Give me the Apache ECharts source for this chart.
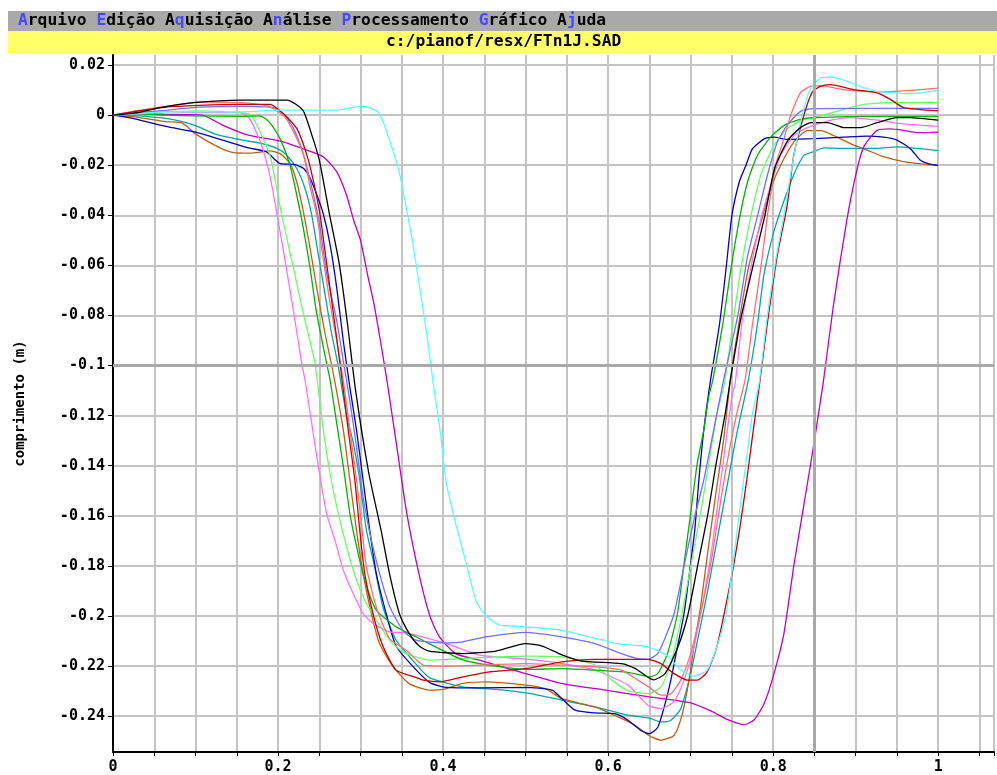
<!DOCTYPE html>
<html>
<head>
<meta charset="utf-8">
<title>FTn1J.SAD</title>
<script src="https://cdn.jsdelivr.net/npm/echarts/dist/echarts.min.js"></script>
<style>
  html, body { margin: 0; padding: 0; background: #fff; }
  #chart { width: 997px; height: 775px; }
</style>
</head>
<body>
<div id="chart"></div>
<script>
// menu + file name
var menuItems = [
  ['', 'A', 'rquivo'], ['', 'E', 'dição'], ['A', 'q', 'uisição'], ['A', 'n', 'álise'],
  ['', 'P', 'rocessamento'], ['', 'G', 'ráfico'], ['A', 'j', 'uda']
];
var fileName = 'c:/pianof/resx/FTn1J.SAD';
var yName = 'comprimento (m)';

// axis ticks
var yTicks = [0.02, 0, -0.02, -0.04, -0.06, -0.08, -0.1, -0.12, -0.14, -0.16, -0.18, -0.2, -0.22, -0.24];
var xLabelStep = 0.2;
var cursorX = 0.85;
var cursorY = -0.1;

// curves [x, y]
var black = [[0,0],[0.03,0.001],[0.057,0.003],[0.097,0.005],[0.157,0.006],[0.211,0.006],[0.23,0.002],[0.24,-0.007],[0.25,-0.018],[0.262,-0.039],[0.274,-0.059],[0.284,-0.083],[0.294,-0.11],[0.31,-0.143],[0.325,-0.166],[0.335,-0.183],[0.347,-0.199],[0.359,-0.207],[0.371,-0.212],[0.383,-0.214],[0.423,-0.215],[0.464,-0.214],[0.5,-0.211],[0.52,-0.212],[0.544,-0.2155],[0.568,-0.218],[0.616,-0.219],[0.633,-0.221],[0.655,-0.2255],[0.669,-0.223],[0.685,-0.212],[0.697,-0.199],[0.709,-0.179],[0.721,-0.159],[0.731,-0.139],[0.742,-0.119],[0.748,-0.106],[0.761,-0.081],[0.775,-0.061],[0.79,-0.04],[0.802,-0.021],[0.818,-0.01],[0.833,-0.005],[0.846,-0.003],[0.866,-0.003],[0.886,-0.005],[0.906,-0.005],[0.926,-0.003],[0.95,-0.001],[0.966,-0.001],[1,-0.002]];
var cyan = [[0,0],[0.03,0.0005],[0.064,0.0013],[0.1,0.0013],[0.156,0.0013],[0.2,0.002],[0.27,0.002],[0.302,0.0036],[0.322,0.001],[0.335,-0.01],[0.347,-0.023],[0.356,-0.038],[0.364,-0.0525],[0.372,-0.0696],[0.38,-0.087],[0.388,-0.107],[0.396,-0.125],[0.404,-0.147],[0.416,-0.164],[0.428,-0.179],[0.44,-0.194],[0.452,-0.2],[0.468,-0.2035],[0.5,-0.2043],[0.54,-0.2055],[0.58,-0.2085],[0.61,-0.211],[0.648,-0.2123],[0.672,-0.216],[0.688,-0.2216],[0.704,-0.224],[0.72,-0.2216],[0.732,-0.212],[0.743,-0.199],[0.751,-0.18],[0.759,-0.159],[0.767,-0.139],[0.775,-0.119],[0.783,-0.107],[0.793,-0.08],[0.803,-0.058],[0.813,-0.04],[0.821,-0.024],[0.829,-0.0096],[0.837,0.0024],[0.845,0.0104],[0.857,0.0148],[0.869,0.0152],[0.885,0.0141],[0.905,0.0115],[0.925,0.0095],[0.946,0.0089],[0.966,0.0086],[1,0.0099]];
var purple = [[0,0],[0.03,0.0005],[0.064,0.0003],[0.108,0],[0.134,-0.0042],[0.164,-0.008],[0.204,-0.0105],[0.235,-0.014],[0.255,-0.0167],[0.271,-0.0226],[0.283,-0.032],[0.292,-0.0424],[0.3,-0.05],[0.308,-0.063],[0.316,-0.075],[0.324,-0.09],[0.332,-0.106],[0.344,-0.1326],[0.356,-0.159],[0.372,-0.185],[0.384,-0.2],[0.395,-0.208],[0.415,-0.215],[0.444,-0.2176],[0.464,-0.2196],[0.5,-0.223],[0.544,-0.227],[0.597,-0.2296],[0.65,-0.2323],[0.7,-0.2347],[0.725,-0.238],[0.745,-0.2414],[0.765,-0.2434],[0.777,-0.2414],[0.789,-0.235],[0.801,-0.223],[0.813,-0.207],[0.825,-0.18],[0.837,-0.156],[0.849,-0.132],[0.861,-0.106],[0.873,-0.076],[0.889,-0.0424],[0.901,-0.0226],[0.91,-0.0125],[0.926,-0.0061],[0.942,-0.0055],[0.958,-0.0061],[0.974,-0.007],[1,-0.0068]];
var darkRed = [[0,0],[0.024,0.0013],[0.064,0.0032],[0.104,0.0039],[0.153,0.0043],[0.19,0.0043],[0.207,0.0004],[0.223,-0.0055],[0.235,-0.016],[0.243,-0.0266],[0.251,-0.04],[0.259,-0.0595],[0.267,-0.079],[0.275,-0.099],[0.285,-0.1256],[0.293,-0.1456],[0.299,-0.1656],[0.305,-0.183],[0.315,-0.199],[0.327,-0.212],[0.343,-0.2216],[0.367,-0.2245],[0.376,-0.2256],[0.396,-0.2263],[0.424,-0.2243],[0.456,-0.2223],[0.5,-0.221],[0.544,-0.2183],[0.584,-0.2173],[0.648,-0.2173],[0.664,-0.219],[0.68,-0.223],[0.696,-0.2256],[0.708,-0.2256],[0.72,-0.2223],[0.732,-0.212],[0.744,-0.1936],[0.752,-0.18],[0.76,-0.164],[0.768,-0.1456],[0.776,-0.1256],[0.784,-0.106],[0.793,-0.083],[0.805,-0.056],[0.817,-0.036],[0.825,-0.016],[0.837,-0.0003],[0.847,0.009],[0.857,0.0115],[0.869,0.0122],[0.898,0.0102],[0.926,0.0089],[0.942,0.0063],[0.958,0.003],[1,0.0017]];
var lightRed = [[0,0],[0.03,0.0018],[0.064,0.0035],[0.088,0.0045],[0.104,0.0052],[0.154,0.005],[0.187,0.0037],[0.207,-0.0003],[0.219,-0.0068],[0.231,-0.016],[0.239,-0.029],[0.247,-0.04],[0.255,-0.058],[0.263,-0.075],[0.271,-0.09],[0.279,-0.106],[0.287,-0.1256],[0.295,-0.1456],[0.301,-0.163],[0.307,-0.1803],[0.319,-0.1963],[0.335,-0.209],[0.355,-0.2136],[0.376,-0.2196],[0.4,-0.22],[0.444,-0.2196],[0.5,-0.219],[0.544,-0.2196],[0.584,-0.2203],[0.616,-0.2216],[0.636,-0.2256],[0.65,-0.2285],[0.664,-0.2316],[0.676,-0.231],[0.688,-0.2256],[0.7,-0.215],[0.712,-0.199],[0.724,-0.18],[0.734,-0.159],[0.744,-0.139],[0.756,-0.119],[0.766,-0.1056],[0.775,-0.0834],[0.785,-0.061],[0.793,-0.0403],[0.803,-0.02],[0.813,-0.0095],[0.821,-0.0003],[0.833,0.0089],[0.845,0.0115],[0.857,0.0118],[0.885,0.0102],[0.926,0.0093],[0.966,0.0099],[1,0.0108]];
var darkBlue = [[0,0],[0.024,-0.0013],[0.064,-0.0045],[0.1,-0.0068],[0.134,-0.0101],[0.166,-0.0132],[0.186,-0.0147],[0.202,-0.0193],[0.219,-0.0197],[0.231,-0.0213],[0.239,-0.0253],[0.247,-0.0318],[0.255,-0.0397],[0.263,-0.0516],[0.271,-0.0687],[0.279,-0.09],[0.287,-0.1086],[0.295,-0.1256],[0.303,-0.1456],[0.311,-0.1656],[0.319,-0.183],[0.331,-0.199],[0.343,-0.212],[0.363,-0.22],[0.384,-0.2266],[0.404,-0.2285],[0.444,-0.2287],[0.5,-0.2285],[0.532,-0.2296],[0.544,-0.233],[0.56,-0.2376],[0.584,-0.2387],[0.608,-0.239],[0.624,-0.2416],[0.64,-0.2458],[0.65,-0.247],[0.66,-0.2445],[0.668,-0.2363],[0.676,-0.2256],[0.684,-0.2123],[0.692,-0.199],[0.7,-0.179],[0.705,-0.1656],[0.71,-0.1456],[0.716,-0.1256],[0.724,-0.106],[0.735,-0.0834],[0.743,-0.061],[0.75,-0.04],[0.759,-0.0266],[0.767,-0.02],[0.775,-0.0134],[0.789,-0.0095],[0.801,-0.0088],[0.817,-0.0097],[0.85,-0.0094],[0.886,-0.0088],[0.913,-0.0084],[0.934,-0.0088],[0.95,-0.01],[0.966,-0.0133],[0.978,-0.0179],[0.99,-0.0196],[1,-0.0201]];
var lightBlue = [[0,0],[0.03,0.001],[0.064,0.0019],[0.104,0.0032],[0.157,0.0035],[0.194,0.003],[0.207,0.0004],[0.219,-0.0055],[0.231,-0.016],[0.243,-0.032],[0.251,-0.045],[0.259,-0.0634],[0.271,-0.082],[0.279,-0.098],[0.287,-0.114],[0.295,-0.1323],[0.303,-0.1523],[0.313,-0.1696],[0.323,-0.183],[0.335,-0.196],[0.351,-0.2056],[0.367,-0.2096],[0.4,-0.2107],[0.424,-0.2103],[0.452,-0.2083],[0.5,-0.2065],[0.544,-0.2083],[0.584,-0.211],[0.616,-0.215],[0.636,-0.217],[0.648,-0.2173],[0.66,-0.215],[0.668,-0.2096],[0.68,-0.199],[0.692,-0.18],[0.704,-0.1616],[0.716,-0.1456],[0.728,-0.1256],[0.74,-0.1056],[0.757,-0.0803],[0.769,-0.0563],[0.781,-0.0403],[0.793,-0.024],[0.805,-0.0108],[0.817,-0.004],[0.834,0.0017],[0.85,0.0026],[1,0.0027]];
var green = [[0,0],[0.024,0.0006],[0.064,0],[0.1,-0.0003],[0.154,-0.0005],[0.178,-0.0003],[0.19,-0.003],[0.2025,-0.0095],[0.2145,-0.02],[0.2226,-0.0318],[0.2306,-0.045],[0.2387,-0.0608],[0.2467,-0.079],[0.2588,-0.099],[0.263,-0.1056],[0.271,-0.1229],[0.279,-0.14],[0.287,-0.159],[0.295,-0.172],[0.305,-0.1856],[0.319,-0.1976],[0.343,-0.2043],[0.367,-0.2083],[0.383,-0.211],[0.424,-0.2175],[0.464,-0.22],[0.504,-0.2213],[0.544,-0.221],[0.584,-0.2216],[0.624,-0.2225],[0.64,-0.2236],[0.65,-0.2243],[0.66,-0.223],[0.672,-0.215],[0.684,-0.199],[0.692,-0.179],[0.7,-0.159],[0.708,-0.139],[0.716,-0.1256],[0.722,-0.1123],[0.727,-0.1056],[0.739,-0.0834],[0.749,-0.061],[0.759,-0.0416],[0.769,-0.0266],[0.781,-0.016],[0.797,-0.0088],[0.813,-0.0042],[0.834,-0.0016],[0.85,-0.001],[0.926,-0.0005],[1,-0.0005]];
var lightGreen = [[0,0],[0.03,0.001],[0.064,0.0013],[0.1,0.0017],[0.154,0.001],[0.168,-0.0003],[0.19,-0.016],[0.2045,-0.04],[0.2186,-0.061],[0.2326,-0.082],[0.2447,-0.099],[0.2548,-0.1256],[0.263,-0.143],[0.273,-0.159],[0.283,-0.1723],[0.295,-0.1856],[0.307,-0.195],[0.319,-0.2016],[0.335,-0.2096],[0.351,-0.2143],[0.367,-0.2163],[0.383,-0.2176],[0.424,-0.217],[0.464,-0.2163],[0.504,-0.216],[0.544,-0.2163],[0.584,-0.2196],[0.6045,-0.2256],[0.624,-0.2298],[0.648,-0.231],[0.664,-0.2283],[0.676,-0.219],[0.688,-0.2016],[0.7,-0.1803],[0.712,-0.159],[0.722,-0.139],[0.732,-0.119],[0.741,-0.107],[0.751,-0.0834],[0.761,-0.061],[0.773,-0.0403],[0.785,-0.024],[0.801,-0.0121],[0.817,-0.0055],[0.834,-0.0022],[0.858,-0.0003],[0.886,0.0024],[0.91,0.0043],[0.946,0.005],[1,0.005]];
var pink = [[0,0],[0.03,0.001],[0.064,0.0015],[0.1,0.001],[0.154,0.001],[0.166,-0.0016],[0.18,-0.012],[0.19,-0.024],[0.199,-0.04],[0.21,-0.061],[0.2205,-0.082],[0.2286,-0.099],[0.2326,-0.1056],[0.2407,-0.1229],[0.2487,-0.14],[0.2588,-0.159],[0.2688,-0.1696],[0.279,-0.1816],[0.291,-0.191],[0.303,-0.199],[0.315,-0.203],[0.335,-0.2063],[0.355,-0.2067],[0.375,-0.2083],[0.404,-0.211],[0.444,-0.2156],[0.464,-0.2163],[0.504,-0.2173],[0.544,-0.219],[0.584,-0.2216],[0.624,-0.2276],[0.648,-0.2356],[0.664,-0.237],[0.68,-0.234],[0.692,-0.2256],[0.704,-0.2123],[0.716,-0.1923],[0.726,-0.1723],[0.734,-0.1523],[0.742,-0.1323],[0.75,-0.1123],[0.754,-0.107],[0.762,-0.0834],[0.773,-0.061],[0.785,-0.0416],[0.797,-0.028],[0.809,-0.016],[0.825,-0.0082],[0.8415,-0.005],[0.87,-0.002],[0.8936,-0.001],[0.926,-0.002],[0.958,-0.0035],[1,-0.0045]];
var brown = [[0,0],[0.024,-0.0006],[0.064,-0.0026],[0.084,-0.0032],[0.1,-0.0075],[0.126,-0.0125],[0.146,-0.015],[0.166,-0.0152],[0.19,-0.0143],[0.2025,-0.0154],[0.2145,-0.0193],[0.2226,-0.0266],[0.2306,-0.0384],[0.2387,-0.0529],[0.2467,-0.0687],[0.2568,-0.087],[0.2668,-0.1029],[0.279,-0.1256],[0.287,-0.1456],[0.295,-0.1656],[0.303,-0.183],[0.313,-0.199],[0.323,-0.211],[0.339,-0.22],[0.359,-0.227],[0.383,-0.2296],[0.4,-0.2293],[0.424,-0.2269],[0.452,-0.2263],[0.5,-0.2276],[0.524,-0.229],[0.544,-0.233],[0.584,-0.2363],[0.612,-0.2403],[0.6325,-0.2436],[0.65,-0.2478],[0.664,-0.2496],[0.68,-0.2476],[0.69,-0.239],[0.698,-0.2256],[0.704,-0.2123],[0.712,-0.1963],[0.72,-0.1763],[0.73,-0.1523],[0.74,-0.1296],[0.748,-0.106],[0.758,-0.084],[0.77,-0.061],[0.785,-0.043],[0.797,-0.0293],[0.809,-0.02],[0.825,-0.0108],[0.8415,-0.0062],[0.858,-0.0062],[0.869,-0.0075],[0.8936,-0.0114],[0.914,-0.014],[0.934,-0.0166],[0.958,-0.0186],[0.982,-0.0196],[1,-0.0201]];
var teal = [[0,0],[0.03,-0.0003],[0.064,-0.0013],[0.084,-0.0026],[0.1,-0.0042],[0.126,-0.0078],[0.154,-0.0098],[0.178,-0.0112],[0.198,-0.0132],[0.2105,-0.016],[0.2226,-0.0213],[0.2326,-0.0292],[0.2407,-0.0397],[0.2487,-0.0555],[0.2568,-0.0713],[0.2648,-0.087],[0.2728,-0.1],[0.283,-0.12],[0.291,-0.1306],[0.299,-0.1456],[0.307,-0.1656],[0.317,-0.1803],[0.327,-0.1963],[0.343,-0.2096],[0.363,-0.2176],[0.383,-0.2245],[0.424,-0.2283],[0.464,-0.2293],[0.504,-0.2309],[0.544,-0.2336],[0.584,-0.2363],[0.624,-0.2396],[0.65,-0.2408],[0.664,-0.2423],[0.676,-0.2416],[0.688,-0.237],[0.7,-0.223],[0.71,-0.207],[0.72,-0.191],[0.732,-0.1696],[0.744,-0.1483],[0.756,-0.127],[0.77,-0.1056],[0.781,-0.0834],[0.789,-0.0634],[0.801,-0.0463],[0.813,-0.0343],[0.825,-0.0237],[0.8375,-0.016],[0.85,-0.0145],[0.861,-0.0131],[0.8855,-0.0133],[0.926,-0.0133],[0.95,-0.0127],[0.974,-0.0133],[1,-0.0142]];

var curves = [
  { data: teal, color: '#00a8a8' },
  { data: brown, color: '#c06010' },
  { data: darkBlue, color: '#0000c0' },
  { data: purple, color: '#c000c0' },
  { data: pink, color: '#ff70ff' },
  { data: lightGreen, color: '#66ff66' },
  { data: green, color: '#00b400' },
  { data: lightBlue, color: '#7070ff' },
  { data: lightRed, color: '#ff6f6f' },
  { data: darkRed, color: '#c80000' },
  { data: cyan, color: '#55ffff' },
  { data: black, color: '#000000' }
];

var monoFont = '"DejaVu Sans Mono", "Liberation Mono", monospace';
var barFontSize = 16.3;

var menuText = menuItems.map(function (m) {
  return m[0] + '{k|' + m[1] + '}' + m[2];
}).join(' ');

var series = curves.map(function (c) {
  return {
    type: 'line',
    data: c.data,
    showSymbol: false,
    smooth: 0.2,
    z: 3,
    lineStyle: { color: c.color, width: 1.3 },
    itemStyle: { color: c.color }
  };
});

// cursor lines
series.unshift({
  type: 'line',
  data: [],
  z: 1,
  silent: true,
  markLine: {
    silent: true,
    symbol: 'none',
    label: { show: false },
    lineStyle: { color: '#a9a9a9', width: 3, type: 'solid' },
    data: [{ xAxis: cursorX }, { yAxis: cursorY }]
  }
});

var chart = echarts.init(document.getElementById('chart'));
chart.setOption({
  animation: false,
  backgroundColor: '#ffffff',
  graphic: [
    { type: 'rect', left: 8, top: 11, shape: { width: 989, height: 20 }, style: { fill: '#a9a9a9' }, z: 10 },
    { type: 'rect', left: 8, top: 31, shape: { width: 989, height: 22 }, style: { fill: '#ffff66' }, z: 10 },
    {
      type: 'text', left: 18, top: 13, z: 11,
      style: {
        text: menuText,
        fontFamily: monoFont, fontWeight: 'bold', fontSize: barFontSize, fill: '#000',
        rich: { k: { fontFamily: monoFont, fontWeight: 'bold', fontSize: barFontSize, fill: '#4848ff', color: '#4848ff' } }
      }
    },
    {
      type: 'text', left: 386, top: 34, z: 11,
      style: { text: fileName, fontFamily: monoFont, fontWeight: 'bold', fontSize: barFontSize, fill: '#000' }
    }
  ],
  grid: { left: 113, right: 0, top: 55, bottom: 23, containLabel: false },
  xAxis: {
    type: 'value',
    min: 0,
    max: 1.0676,
    interval: 0.05,
    axisLine: { onZero: false, lineStyle: { color: '#000', width: 2 } },
    axisTick: { show: true, length: 4, lineStyle: { color: '#000' } },
    axisLabel: {
      color: '#000', fontFamily: monoFont, fontWeight: 'bold', fontSize: 15, margin: 8,
      formatter: function (v) {
        var r = Math.round(v / xLabelStep);
        if (Math.abs(v - r * xLabelStep) > 1e-6 || v > 1.0001) return '';
        return String(+(r * xLabelStep).toFixed(1));
      }
    },
    splitLine: { show: true, lineStyle: { color: '#c4c4c4', width: 2 } }
  },
  yAxis: {
    type: 'value',
    min: -0.2543,
    max: 0.024,
    name: yName,
    nameLocation: 'middle',
    nameGap: 86,
    nameTextStyle: { color: '#000', fontFamily: monoFont, fontWeight: 'bold', fontSize: 14 },
    axisLine: { onZero: false, lineStyle: { color: '#000', width: 2 } },
    axisTick: { show: true, length: 5, customValues: yTicks, lineStyle: { color: '#000' } },
    axisLabel: {
      customValues: yTicks,
      color: '#000', fontFamily: monoFont, fontWeight: 'bold', fontSize: 15, margin: 8,
      formatter: function (v) { return String(+v.toFixed(2)); }
    },
    splitLine: { show: true, lineStyle: { color: '#c4c4c4', width: 2 } }
  },
  series: series
});
</script>
</body>
</html>
